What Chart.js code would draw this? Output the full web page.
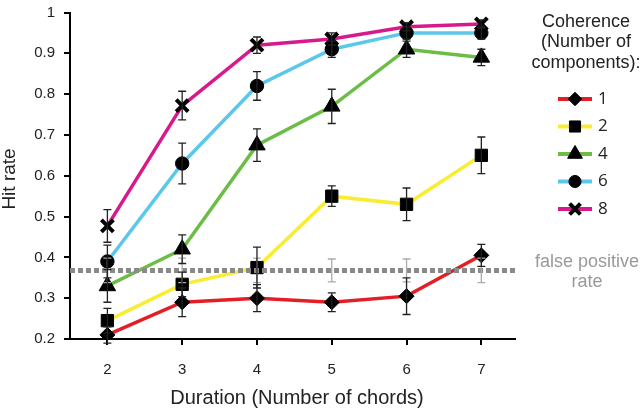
<!DOCTYPE html>
<html>
<head>
<meta charset="utf-8">
<script src="https://cdn.jsdelivr.net/npm/chart.js@4.4.1/dist/chart.umd.min.js"></script>
<style>
  html, body { margin: 0; padding: 0; background: #fff; }
  #wrap { width: 640px; height: 410px; }
</style>
</head>
<body>
<div id="wrap"><canvas id="chart" width="640" height="410"></canvas></div>
<script>
// Data
const durations = [2, 3, 4, 5, 6, 7];
const yTickValues = [0.2, 0.3, 0.4, 0.5, 0.6, 0.7, 0.8, 0.9, 1];
const coherenceLabels = ["1", "2", "4", "6", "8"];

const hit1 = [0.21, 0.29, 0.30, 0.29, 0.305, 0.405];
const hit2 = [0.245, 0.334, 0.375, 0.55, 0.53, 0.65];
const hit4 = [0.33, 0.42, 0.675, 0.77, 0.91, 0.89];
const hit6 = [0.39, 0.63, 0.82, 0.91, 0.95, 0.95];
const hit8 = [0.477, 0.772, 0.92, 0.935, 0.965, 0.972];

const err1 = [0.02, 0.035, 0.033, 0.023, 0.045, 0.027];
const err2 = [0.03, 0.03, 0.05, 0.025, 0.04, 0.045];
const err4 = [0.04, 0.035, 0.04, 0.042, 0.02, 0.02];
const err6 = [0.04, 0.05, 0.035, 0.02, 0.015, 0.015];
const err8 = [0.04, 0.035, 0.02, 0.015, 0.01, 0.01];

const falsePositive = 0.368;
const falsePositiveErr = [0.03, 0.03, 0.03, 0.028, 0.028, 0.03];

const FONT = "'Liberation Sans', Arial, sans-serif";

const series = [
  { label: coherenceLabels[0], values: hit1, errors: err1, color: "#e41e26", style: "rectRot", radius: 7.5, bw: 1 },
  { label: coherenceLabels[1], values: hit2, errors: err2, color: "#f9ed32", style: "rect", radius: 8.7, bw: 1 },
  { label: coherenceLabels[2], values: hit4, errors: err4, color: "#6cbd45", style: "triangle", radius: 9.5, bw: 1 },
  { label: coherenceLabels[3], values: hit6, errors: err6, color: "#5bc8eb", style: "circle", radius: 6.7, bw: 1 },
  { label: coherenceLabels[4], values: hit8, errors: err8, color: "#d8198c", style: "crossRot", radius: 8.5, bw: 4 },
];

const toPoints = (vals) => durations.map((d, i) => ({ x: d, y: vals[i] }));

const datasets = series.map((s) => ({
  label: s.label,
  data: toPoints(s.values),
  borderColor: s.color,
  borderWidth: 3.5,
  pointStyle: s.style,
  pointRadius: s.radius,
  pointHoverRadius: s.radius,
  pointBackgroundColor: "#000",
  pointBorderColor: "#000",
  pointBorderWidth: s.bw,
  tension: 0,
  order: 1,
}));

// dashed false positive line across the plot
datasets.push({
  label: "false positive rate",
  data: [{ x: 1.5, y: falsePositive }, { x: 7.45, y: falsePositive }],
  borderColor: "#8a8a8a",
  borderWidth: 5,
  borderDash: [5, 3],
  pointRadius: 0,
  order: 0,
});

// Error bars
const errorBars = {
  id: "errorBars",
  afterDatasetsDraw(chart) {
    const { ctx, scales: { x, y } } = chart;
    const drawBar = (xv, yv, e, color) => {
      const px = x.getPixelForValue(xv);
      const top = y.getPixelForValue(yv + e);
      const bot = y.getPixelForValue(yv - e);
      ctx.strokeStyle = color;
      ctx.lineWidth = 1.3;
      ctx.beginPath();
      ctx.moveTo(px, top); ctx.lineTo(px, bot);
      ctx.moveTo(px - 4, top); ctx.lineTo(px + 4, top);
      ctx.moveTo(px - 4, bot); ctx.lineTo(px + 4, bot);
      ctx.stroke();
    };
    ctx.save();
    durations.forEach((d, i) => drawBar(d, falsePositive, falsePositiveErr[i], "#aaaaaa"));
    series.forEach((s) => {
      durations.forEach((d, i) => drawBar(d, s.values[i], s.errors[i], "#222"));
    });
    ctx.restore();
  },
};

// Axis titles, legend and side notes
const sideLegend = {
  id: "sideLegend",
  afterDraw(chart) {
    const ctx = chart.ctx;
    ctx.save();
    ctx.fillStyle = "#222";
    ctx.textAlign = "center";
    ctx.textBaseline = "middle";

    // axis titles
    ctx.font = `20px ${FONT}`;
    ctx.fillText("Duration (Number of chords)", 297, 398);
    ctx.save();
    ctx.translate(10, 179);
    ctx.rotate(-Math.PI / 2);
    ctx.font = `19px ${FONT}`;
    ctx.fillText("Hit rate", 0, 0);
    ctx.restore();

    ctx.font = `18px ${FONT}`;
    ["Coherence", "(Number of", "components):"].forEach((t, i) => ctx.fillText(t, 586, 22 + i * 20.5));

    series.forEach((s, i) => {
      const yy = 99 + i * 27.5;
      ctx.strokeStyle = s.color;
      ctx.lineWidth = 4;
      ctx.setLineDash([]);
      ctx.beginPath();
      ctx.moveTo(558, yy); ctx.lineTo(592, yy);
      ctx.stroke();
      ctx.fillStyle = "#000";
      ctx.strokeStyle = "#000";
      ctx.lineWidth = s.bw;
      Chart.helpers.drawPoint(ctx, { pointStyle: s.style, rotation: 0, radius: s.radius * 0.9, borderWidth: s.bw }, 575, yy);
      ctx.fillStyle = "#222";
      ctx.font = `17px 'Open Sans', ${FONT}`;
      ctx.textAlign = "left";
      ctx.fillText(s.label, 598, yy);
    });

    ctx.fillStyle = "#999";
    ctx.font = `18px ${FONT}`;
    ctx.textAlign = "center";
    ctx.fillText("false positive", 587, 262);
    ctx.fillText("rate", 587, 282);
    ctx.restore();
  },
};

new Chart(document.getElementById("chart"), {
  type: "line",
  data: { datasets },
  options: {
    responsive: false,
    animation: false,
    layout: { padding: { left: 0, right: 125, top: 5, bottom: 0 } },
    plugins: { legend: { display: false }, tooltip: { enabled: false } },
    scales: {
      x: {
        type: "linear",
        min: 1.5,
        max: 7.45,
        afterBuildTicks: (scale) => { scale.ticks = durations.map((v) => ({ value: v })); },
        afterFit: (scale) => { scale.height = 71; scale.paddingLeft = 0; scale.paddingRight = 0; },
        grid: { drawOnChartArea: false, drawTicks: true, tickLength: 6, color: "#000", lineWidth: 2 },
        border: { display: true, color: "#000", width: 2 },
        ticks: { color: "#222", font: { family: FONT, size: 15 }, padding: 16, maxRotation: 0 },
        title: { display: false },
      },
      y: {
        min: 0.2,
        max: 1,
        afterBuildTicks: (scale) => { scale.ticks = yTickValues.map((v) => ({ value: v })); },
        afterFit: (scale) => { scale.width = 70; scale.paddingTop = 0; scale.paddingBottom = 0; },
        grid: { drawOnChartArea: false, drawTicks: true, tickLength: 6, color: "#000", lineWidth: 2 },
        border: { display: true, color: "#000", width: 2 },
        ticks: {
          color: "#222",
          font: { family: FONT, size: 15 },
          padding: 9,
          callback: (v) => String(Number(v.toFixed(1))),
        },
        title: { display: false },
      },
    },
  },
  plugins: [errorBars, sideLegend],
});
</script>
</body>
</html>
